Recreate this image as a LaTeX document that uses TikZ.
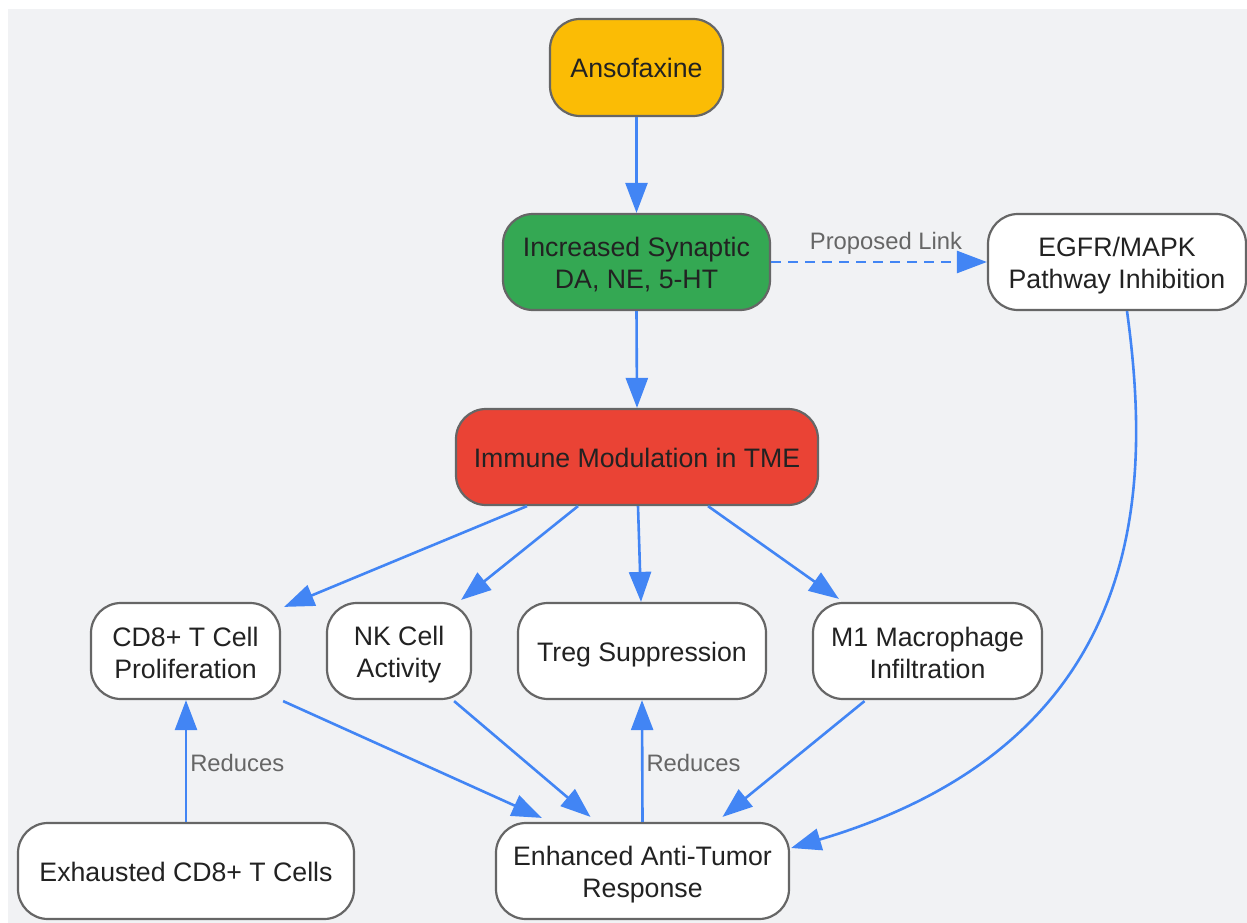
\documentclass[tikz,border=0pt]{standalone}
\usepackage{fontspec}
\setmainfont{Liberation Sans}
\usetikzlibrary{arrows.meta,calc}
\definecolor{bg}{HTML}{F1F2F4}
\definecolor{edge}{HTML}{4285F4}
\definecolor{bord}{HTML}{666666}
\definecolor{txt}{HTML}{222222}
\definecolor{lbl}{HTML}{666666}
\definecolor{yel}{HTML}{FBBC05}
\definecolor{grn}{HTML}{34A853}
\definecolor{rd}{HTML}{EA4335}
\tikzset{
  box/.style={draw=bord, line width=2.2pt, rounded corners=30pt, fill=white, inner sep=0pt},
  boxtext/.style={text=txt, align=center, inner sep=0pt,
    font=\fontsize{26.7}{32}\selectfont},
  conn/.style={draw=edge, line width=2.6pt, -{Triangle[length=30pt,width=22pt]}},
  elabel/.style={text=lbl, font=\fontsize{23.8}{28}\selectfont, inner sep=0pt},
}
\begin{document}
\begin{tikzpicture}[x=1pt,y=-1pt]
\useasboundingbox (0,0) rectangle (1247,923);
\fill[bg] (8,9) rectangle (1247,923);
% nodes
\node[box, fill=yel, minimum width=173pt, minimum height=97pt,
  label={[boxtext, yshift=-0.5pt]center:Ansofaxine}] (ans) at (636.5,67.5) {};
\node[box, fill=grn, minimum width=267pt, minimum height=96pt,
  label={[boxtext, yshift=-2.5pt]center:{Increased Synaptic\\DA, NE, 5-HT}}] (syn) at (636.5,262) {};
\node[box, minimum width=258pt, minimum height=96pt,
  label={[boxtext, yshift=-3.5pt]center:{EGFR/MAPK\\Pathway Inhibition}}] (egfr) at (1117,262) {};
\node[box, fill=rd, minimum width=362pt, minimum height=96pt,
  label={[boxtext, yshift=-1pt]center:{Immune Modulation in TME}}] (imm) at (637,457) {};
\node[box, minimum width=189pt, minimum height=96pt,
  label={[boxtext, yshift=-1.5pt]center:{CD8+ T Cell\\Proliferation}}] (cd8) at (185.5,651) {};
\node[box, minimum width=144pt, minimum height=96pt,
  label={[boxtext, yshift=-3.5pt]center:{NK Cell\\Activity}}] (nk) at (399,651) {};
\node[box, minimum width=248pt, minimum height=96pt,
  label={[boxtext, yshift=-4pt]center:{Treg Suppression}}] (treg) at (642,651) {};
\node[box, minimum width=229pt, minimum height=96pt,
  label={[boxtext, yshift=-1.5pt]center:{M1 Macrophage\\Infiltration}}] (m1) at (927.5,651) {};
\node[box, minimum width=336pt, minimum height=96pt,
  label={[boxtext, yshift=-1pt]center:{Exhausted CD8+ T Cells}}] (exh) at (186,871) {};
\node[box, minimum width=293pt, minimum height=96pt,
  label={[boxtext, yshift=-3.5pt]center:{Enhanced Anti-Tumor\\Response}}] (enh) at (642.5,871) {};
% connectors
\draw[conn] (ans.south) -- (syn.north);
\draw[conn, dash pattern=on 10pt off 7pt] (syn.east) -- (egfr.west)
  node[elabel, midway, above=6pt, xshift=7pt] {Proposed Link};
\draw[conn] (syn.south) -- (imm.north);
\draw[conn] ([xshift=-110pt]imm.south) -- ([xshift=3pt,yshift=-5pt]cd8.north east);
\draw[conn] ([xshift=-59pt]imm.south) -- ([xshift=-11pt,yshift=2pt]nk.north east);
\draw[conn] ([xshift=1pt]imm.south) -- ([xshift=-1pt]treg.north);
\draw[conn] ([xshift=71pt]imm.south) -- ([xshift=27pt,yshift=3pt]m1.north west);
\draw[conn] ([xshift=2pt,yshift=-1pt]cd8.south east) -- ([xshift=47pt,yshift=4pt]enh.north west);
\draw[conn] ([xshift=-18pt,yshift=-1pt]nk.south east) -- ([xshift=-52pt,yshift=5pt]enh.north);
\draw[conn] ([xshift=-63pt,yshift=-1pt]m1.south) -- ([xshift=80pt,yshift=5pt]enh.north);
\draw[conn] (enh.north) -- (treg.south)
  node[elabel, pos=0.5, right=3pt, yshift=-2pt] {Reduces};
\draw[conn] (exh.north) -- ([xshift=0.5pt]cd8.south)
  node[elabel, pos=0.5, right=3pt, yshift=-2pt] {Reduces};
\draw[conn] ([xshift=10pt]egfr.south) .. controls (1150,480) and (1155,740) .. ([xshift=1pt,yshift=23pt]enh.east);
\end{tikzpicture}
\end{document}
